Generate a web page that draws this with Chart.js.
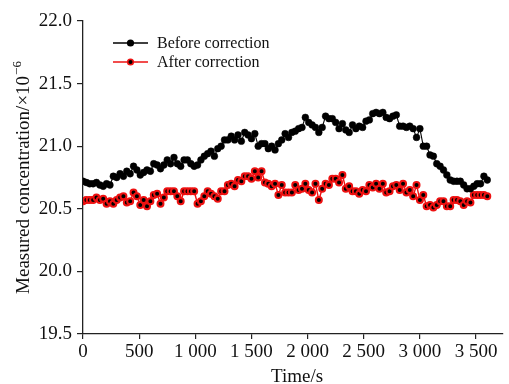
<!DOCTYPE html>
<html>
<head>
<meta charset="utf-8">
<script src="https://cdn.jsdelivr.net/npm/chart.js@4.4.0/dist/chart.umd.min.js"></script>
<style>
  html, body { margin: 0; padding: 0; background: #fff; }
  #wrap { width: 509px; height: 384px; position: relative; }
</style>
</head>
<body>
<div id="wrap"><canvas id="chart" width="509" height="384"></canvas></div>
<script>
// Time in seconds
const times = [
  0, 30, 60, 90, 120, 150, 180, 210, 240, 270, 300, 330, 360, 390, 420, 450, 480, 510, 540, 570,
  600, 630, 660, 690, 720, 750, 780, 810, 840, 870, 900, 930, 960, 990, 1020, 1050, 1080, 1110, 1140, 1170,
  1200, 1230, 1260, 1290, 1320, 1350, 1380, 1410, 1440, 1470, 1500, 1530, 1560, 1590, 1620, 1650, 1680, 1710, 1740, 1770,
  1800, 1830, 1860, 1890, 1920, 1950, 1980, 2010, 2040, 2070, 2100, 2130, 2160, 2190, 2220, 2250, 2280, 2310, 2340, 2370,
  2400, 2430, 2460, 2490, 2520, 2550, 2580, 2610, 2640, 2670, 2700, 2730, 2760, 2790, 2820, 2850, 2880, 2910, 2940, 2970,
  3000, 3030, 3060, 3090, 3120, 3150, 3180, 3210, 3240, 3270, 3300, 3330, 3360, 3390, 3420, 3450, 3480, 3510, 3540, 3570,
  3600
];

const beforeCorrection = [
  20.72, 20.71, 20.70, 20.70, 20.71, 20.69, 20.68, 20.70, 20.69, 20.76, 20.75, 20.78, 20.76, 20.80, 20.78, 20.84, 20.81, 20.77, 20.79, 20.81,
  20.80, 20.86, 20.85, 20.82, 20.85, 20.89, 20.86, 20.91, 20.86, 20.84, 20.89, 20.89, 20.86, 20.84, 20.85, 20.89, 20.92, 20.94, 20.96, 20.92,
  20.98, 21.00, 21.05, 21.05, 21.08, 21.05, 21.09, 21.04, 21.11, 21.09, 21.06, 21.10, 21.00, 21.02, 21.02, 20.98, 21.00, 20.97, 21.02, 21.05,
  21.10, 21.07, 21.11, 21.12, 21.14, 21.15, 21.23, 21.19, 21.17, 21.15, 21.11, 21.15, 21.24, 21.22, 21.22, 21.19, 21.14, 21.18, 21.13, 21.11,
  21.17, 21.14, 21.16, 21.15, 21.20, 21.21, 21.26, 21.27, 21.26, 21.27, 21.23, 21.22, 21.24, 21.25, 21.16, 21.16, 21.15, 21.16, 21.14, 21.07,
  21.14, 21.00, 21.00, 20.93, 20.92, 20.86, 20.84, 20.81, 20.77, 20.73, 20.72, 20.72, 20.72, 20.69, 20.66, 20.66, 20.68, 20.70, 20.70, 20.76,
  20.73
];

const afterCorrection = [
  20.56, 20.57, 20.57, 20.57, 20.59, 20.57, 20.58, 20.54, 20.56, 20.54, 20.57, 20.59, 20.60, 20.55, 20.56, 20.63, 20.60, 20.53, 20.57, 20.52,
  20.56, 20.61, 20.62, 20.54, 20.59, 20.64, 20.64, 20.64, 20.60, 20.56, 20.64, 20.64, 20.64, 20.64, 20.54, 20.56, 20.60, 20.64, 20.62, 20.60,
  20.58, 20.64, 20.64, 20.69, 20.70, 20.68, 20.73, 20.72, 20.76, 20.76, 20.74, 20.80, 20.75, 20.80, 20.71, 20.70, 20.68, 20.70, 20.61, 20.69,
  20.63, 20.63, 20.63, 20.69, 20.65, 20.66, 20.70, 20.65, 20.63, 20.70, 20.57, 20.66, 20.70, 20.69, 20.74, 20.74, 20.71, 20.77, 20.66, 20.68,
  20.64, 20.64, 20.62, 20.65, 20.64, 20.69, 20.67, 20.70, 20.66, 20.70, 20.63, 20.64, 20.68, 20.69, 20.65, 20.70, 20.63, 20.65, 20.60, 20.69,
  20.57, 20.61, 20.52, 20.53, 20.51, 20.53, 20.56, 20.56, 20.52, 20.52, 20.57, 20.57, 20.56, 20.53, 20.56, 20.55, 20.61, 20.61, 20.61, 20.61,
  20.60
];

const xTicks = [0, 500, 1000, 1500, 2000, 2500, 3000, 3500];
const yTicks = [19.5, 20.0, 20.5, 21.0, 21.5, 22.0];
const seriesNames = ["Before correction", "After correction"];
const RED = "#ee1111";
const SERIF = "'Liberation Serif', 'Times New Roman', serif";

function toPoints(values) {
  return values.map((v, i) => ({ x: times[i], y: v }));
}

function formatThousands(value) {
  return String(value).replace(/\B(?=(\d{3})+(?!\d))/g, " ");
}

// titles and legend drawn by hand (superscript, line+marker legend)
const decorations = {
  id: "decorations",
  afterDraw(chart) {
    const ctx = chart.ctx;
    ctx.save();
    ctx.fillStyle = "#111";

    // y axis title
    ctx.save();
    ctx.translate(29, 178);
    ctx.rotate(-Math.PI / 2);
    ctx.font = `19px ${SERIF}`;
    const main = "Measured concentration/\u00d710";
    const w = ctx.measureText(main).width;
    ctx.font = `13px ${SERIF}`;
    const sw = ctx.measureText("\u22126").width;
    const start = -(w + sw) / 2;
    ctx.font = `19px ${SERIF}`;
    ctx.textBaseline = "alphabetic";
    ctx.fillText(main, start, 0);
    ctx.font = `13px ${SERIF}`;
    ctx.fillText("\u22126", start + w + 1, -8);
    ctx.restore();

    // x axis title
    ctx.font = `19px ${SERIF}`;
    ctx.textAlign = "center";
    ctx.textBaseline = "alphabetic";
    ctx.fillText("Time/s", 297, 382);

    // legend
    const rows = [
      { y: 43, line: "#000", border: "#000" },
      { y: 62, line: RED, border: RED },
    ];
    ctx.textAlign = "left";
    ctx.textBaseline = "middle";
    ctx.font = `16px ${SERIF}`;
    rows.forEach((row, i) => {
      ctx.strokeStyle = row.line;
      ctx.lineWidth = 1.3;
      ctx.beginPath();
      ctx.moveTo(113, row.y);
      ctx.lineTo(148, row.y);
      ctx.stroke();
      ctx.beginPath();
      ctx.arc(130.5, row.y, 2.8, 0, Math.PI * 2);
      ctx.fillStyle = "#000";
      ctx.fill();
      ctx.lineWidth = 1.6;
      ctx.strokeStyle = row.border;
      ctx.stroke();
      ctx.fillStyle = "#111";
      ctx.fillText(seriesNames[i], 157, row.y + 1);
    });
    ctx.restore();
  },
};

new Chart(document.getElementById("chart"), {
  type: "line",
  data: {
    datasets: [
      {
        label: seriesNames[0],
        data: toPoints(beforeCorrection),
        borderColor: "#000",
        borderWidth: 1.1,
        pointRadius: 3.4,
        pointBackgroundColor: "#000",
        pointBorderColor: "#000",
        pointBorderWidth: 0.5,
        tension: 0,
      },
      {
        label: seriesNames[1],
        data: toPoints(afterCorrection),
        borderColor: RED,
        borderWidth: 1.4,
        pointRadius: 3,
        pointBackgroundColor: "#000",
        pointBorderColor: RED,
        pointBorderWidth: 2,
        tension: 0,
      },
    ],
  },
  options: {
    responsive: false,
    animation: false,
    devicePixelRatio: 1,
    layout: { padding: { top: 21, right: 0, bottom: 0, left: 0 } },
    scales: {
      x: {
        type: "linear",
        min: 0,
        max: 3740,
        afterBuildTicks: (scale) => {
          scale.ticks = xTicks.map((v) => ({ value: v }));
        },
        afterFit: (scale) => {
          scale.height = 50;
        },
        border: { color: "#222", width: 1.3 },
        grid: { drawOnChartArea: false, tickLength: 5, color: "#222", lineWidth: 1.2 },
        ticks: {
          color: "#111",
          padding: 2,
          maxRotation: 0,
          font: { family: SERIF, size: 19 },
          callback: (value) => formatThousands(value),
        },
      },
      y: {
        min: 19.5,
        max: 22.0,
        afterBuildTicks: (scale) => {
          scale.ticks = yTicks.map((v) => ({ value: v }));
        },
        afterFit: (scale) => {
          scale.width = 83;
        },
        border: { color: "#222", width: 1.3 },
        grid: { drawOnChartArea: false, tickLength: 6, color: "#222", lineWidth: 1.2 },
        ticks: {
          color: "#111",
          padding: 5,
          font: { family: SERIF, size: 19 },
          callback: (value) => value.toFixed(1),
        },
      },
    },
    plugins: {
      legend: { display: false },
      tooltip: { enabled: false },
    },
  },
  plugins: [decorations],
});
</script>
</body>
</html>
